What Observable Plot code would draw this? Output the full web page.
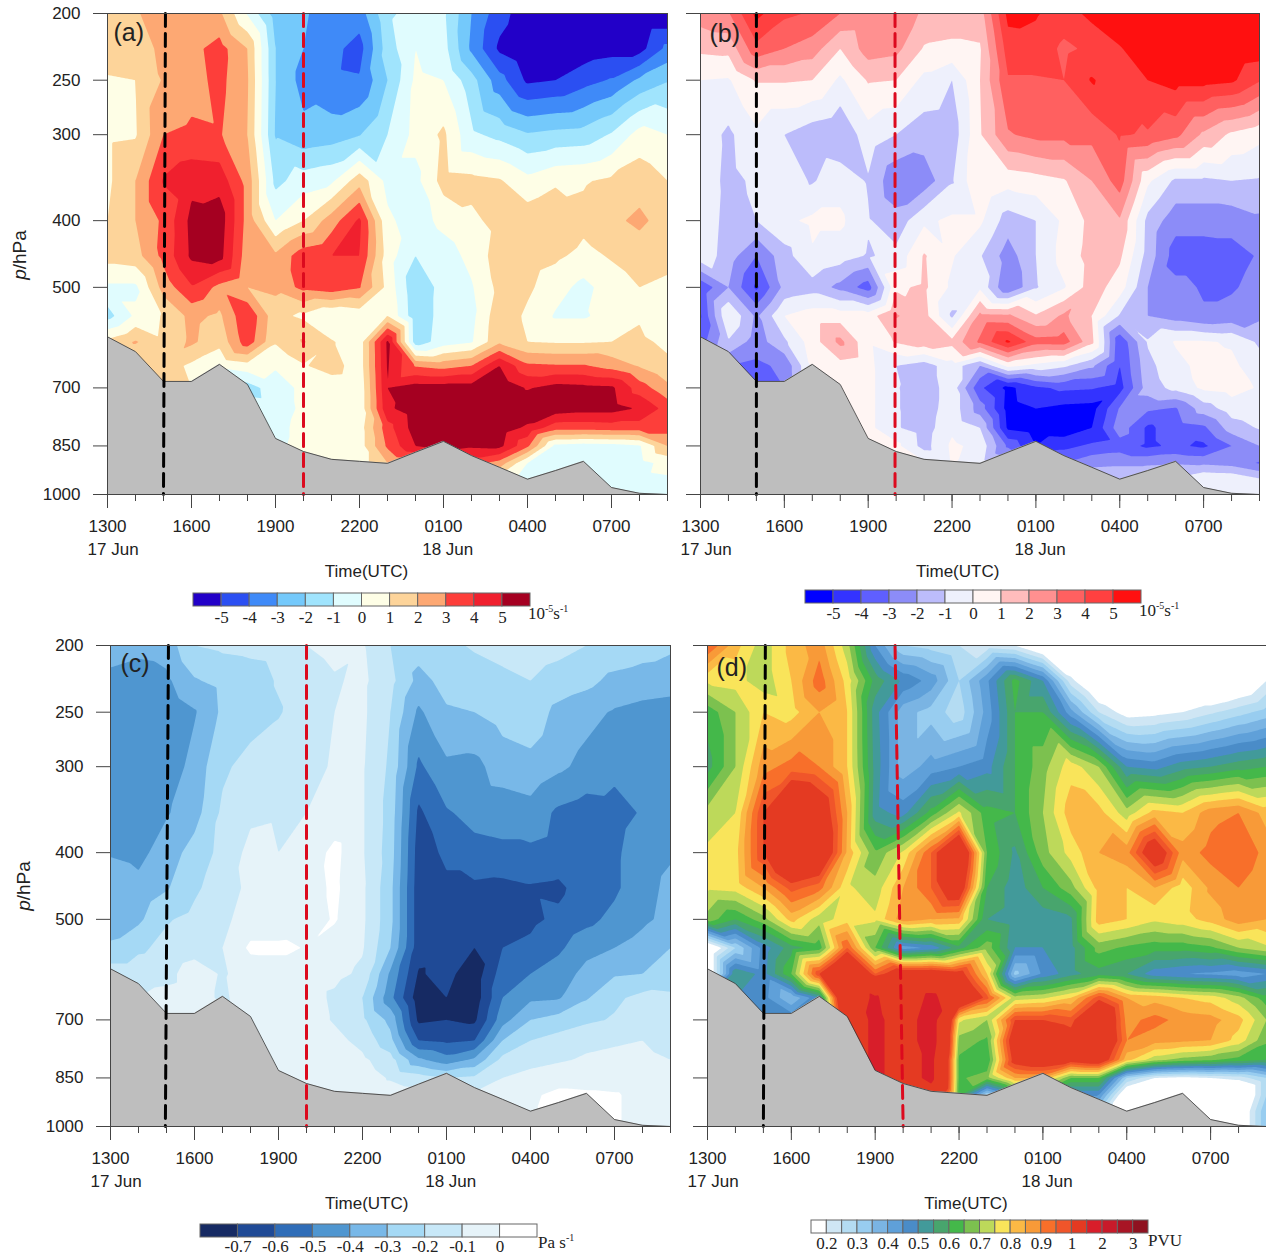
<!DOCTYPE html>
<html><head><meta charset="utf-8">
<script src="https://cdn.jsdelivr.net/npm/d3@7"></script>
<script src="https://cdn.jsdelivr.net/npm/@observablehq/plot@0.6"></script>
<style>
html,body{margin:0;padding:0;background:#fff}
#page{position:relative;width:1266px;height:1255px;overflow:hidden;font-family:"Liberation Sans",sans-serif;color:#222}
#page>svg,#page>div{position:absolute}
.ylab{font-size:19px;transform:translate(-50%,-50%) rotate(-90deg);white-space:nowrap}
.unit{font-family:"Liberation Serif",serif;font-size:17px;white-space:nowrap;line-height:17px}
.unit sup{font-size:10px;line-height:0}
</style></head><body><div id="page"></div>
<script>
const hours = d3.range(21);
const levels = [200,225,250,300,350,400,450,500,550,600,650,700,750,800,850,900,950,1000];
const pressureTicks = [200,250,300,400,500,700,850,1000];
const majorHours = [0,3,6,9,12,15,18];
const hourLabels = ["1300","1600","1900","2200","0100","0400","0700"];
const terrain = [590,620,685,685,647,692,829,866,889,895,901,868,837,878,913,950,923,895,977,996,1000];

const rowsA = [
[1.5,1.9,2.5,2.6,2.2,-0.1,-2.5,-2.9,-3.4,-3.5,-1.2,-0.6,-0.8,-3.0,-4.6,-5.6,-6,-6,-6,-6,-6],
[1.5,1.6,2.2,2.7,3.4,2.0,-2.0,-3.0,-3.7,-4.4,-1.5,0.0,-0.6,-3.2,-5.2,-5.9,-5.8,-5.6,-5.4,-5.4,-3.7],
[0.9,1.0,2.1,2.6,3.3,2.1,-2.0,-3.4,-3.8,-3.9,-2.0,0.2,0.0,-1.6,-3.6,-5.2,-5.0,-4.4,-3.9,-2.8,-2.1],
[0.8,0.9,3.0,3.2,3.1,2.0,-2.1,-2.7,-2.5,-2.05,-1.0,0.3,1.2,-0.8,-1.3,-1.9,-1.7,-1.6,-0.9,0.4,0],
[0.8,2.0,4.1,4.7,4.6,2.6,-1.3,-0.5,-0.2,1.6,-0.3,-0.3,1.4,1.3,1.1,0.3,0.8,0.9,1.2,1.6,1.0],
[1.0,2.0,3.2,5.3,5.6,2.6,0.0,1.0,2.5,4.2,0.2,-0.5,0.3,0.8,1.3,1.6,2.0,1.3,1.8,2.2,1.6],
[1.4,1.6,3.3,5.2,5.4,2.4,2.2,3.6,4.0,4.0,0.5,-1.0,-0.5,0.3,1.5,1.5,1.2,0.7,1.1,1.5,1.3],
[-0.2,-0.2,2.4,3.9,2.7,2.0,2.3,3.3,3.6,3.1,0.7,-1.8,-0.6,-0.1,1.3,1.2,0.4,-0.3,0.5,1.0,0.8],
[-1.4,0.2,1.1,2.3,1.8,3.9,1.3,0.8,0.0,0.3,1.0,-1.7,-0.6,-0.3,1.7,0.8,-0.1,-0.1,0.3,0.95,0.6],
[1.3,2.1,1.2,2.2,1.3,3.6,1.1,2.1,1.1,0.4,5.2,-1.6,-0.5,-0.1,1.8,1.0,0.9,0.9,1.0,1.1,0.9],
[1,1,1.5,0.8,0.2,0.6,0.1,0.9,1.5,0.4,5.1,2.9,2.6,3.0,5.0,3.2,3.1,3.1,2.6,1.9,1.1],
[1,1,1,1,0,-1.5,-0.4,0.2,0.3,0.2,5.0,5.5,5.5,5.5,5.8,4.9,5.4,5.3,5.2,3.5,2.3],
[0,0,0,0,0,-0.3,-0.5,0.2,0.2,0.2,4.8,5.6,5.9,6,6,5.8,5.6,5.4,5.4,4.9,3.6],
[0,0,0,0,0,0,-0.4,0.4,0.5,0.5,3.6,5.5,5.8,5.8,5.6,4.8,3.4,3.4,3.5,3.5,3.5],
[0,0,0,0,0,0,-0.4,0.6,0.5,0.5,3.2,5.0,5.6,5.2,5.3,3.2,-0.3,-0.5,-0.4,-0.1,2.0],
[0,0,0,0,0,0,0,0,0.5,0.5,2.0,2.2,3.4,3.4,2.6,0,-0.5,-0.4,-0.3,-0.3,0.3],
[0,0,0,0,0,0,0,0,0.5,0.5,1,1,2,2,0.5,-0.4,-0.3,-0.2,-0.3,-0.2,-0.1],
[0,0,0,0,0,0,0,0,0.5,0.5,1,1,2,2,0.5,-0.4,-0.3,-0.2,-0.3,-0.2,-0.1]];

const rowsB = [
[2.5,2.9,5.3,4.2,3.9,3.0,2.9,2.8,1.8,1.5,1.5,5.3,5.1,4.5,5.3,6,6,6,6,6,6],
[1.2,1.3,3.7,3.0,2.5,1.0,2.5,2.3,0.9,0.8,0.9,4.5,4.6,3.8,4.2,4.9,5.8,5.8,5.8,5.8,5.6],
[0,-0.1,1.1,1.1,1.0,-0.2,1.1,1.0,-0.3,-1.0,1.0,3.9,3.9,4,5.1,4.4,5.0,5.4,5.4,5.2,4.1],
[-0.4,-1.2,-0.2,-1.0,-1.6,-1.9,-0.4,-1.0,-1.5,-1.6,0.9,2.9,3.3,3.3,3.3,4.1,3.9,3.3,1.8,0.8,0.3],
[-0.3,-1.3,-0.8,-0.5,-1.1,-0.4,-1.1,-2.8,-2.6,-1.1,1.0,0.4,0.6,0.9,2.0,3.5,0.2,-1.2,-1.2,-1.0,-1.1],
[-0.2,-1.4,-1.0,-0.2,0.2,0.2,-0.9,-1.6,-0.2,0.2,0.2,-1.5,-1.0,0.2,1.3,1.9,-1.3,-2.6,-2.6,-2.6,-2.2],
[-0.3,-1.5,-3,-1.4,-0.1,-0.5,-1.1,-0.7,1.1,0.1,-0.9,-2.5,-1.0,0.4,1.4,1.2,-1.4,-3.5,-3.5,-3.4,-2.9],
[-3.8,-2,-4.2,-1.7,-1.4,-2.3,-3.5,0.8,1.2,-0.2,-0.2,-3.0,-1.1,-0.1,1.5,0.5,-2,-2.7,-3.1,-3.1,-2.7],
[-4.1,0.0,-2.2,0.0,0.5,0.5,0.5,2.1,1.4,-1.2,2.3,2.2,1.1,2.2,1.0,-1.1,-2,-2.5,-2.9,-2.7,-2.2],
[-3.5,-1.1,-2.5,-1.2,0.5,2.3,0.2,1.1,1.6,1.3,3.2,5.2,3.4,3.5,1.3,-3.8,-0.9,0.1,0.1,-0.1,-1.2],
[-3,-3,-3.2,-2.8,0.2,0.6,0.3,-1.0,-1.5,-0.4,-2.0,0.3,-0.3,-0.8,-1.8,-4.0,-1.3,-0.3,0.3,0.2,-0.5],
[-3,-3,-3,-3,0.2,0.4,0.3,-0.9,-1.7,-0.4,-3.8,-5.3,-4.2,-3.8,-3.9,-4.4,-1.5,-0.7,0.2,0.4,-0.1],
[0,0,0,0,0,0.3,0.3,-0.9,-1.6,-0.4,-2.5,-5.4,-5,-5.3,-5.4,-2.9,-2.8,-3.1,-1.5,-0.5,-0.2],
[0,0,0,0,0,0.3,0.3,-0.9,-1.5,-0.2,-1.0,-5.2,-5.6,-5.7,-5.0,-2.4,-4.2,-3.5,-3.2,-1.5,-0.9],
[0,0,0,0,0,0.3,0.3,0.3,-1.4,0.2,-0.3,-3.2,-5.0,-4.3,-3.8,-3.5,-4.2,-3.8,-4.2,-3.0,-2.0],
[0,0,0,0,0,0.3,0.3,0.3,0.2,0.1,-0.6,-1.3,-3,-3,-2.3,-2.2,-2.2,-2.1,-2.2,-2.4,-3.1],
[0,0,0,0,0,0.3,0.3,0.3,0.2,0.1,-0.6,-1.3,-2,-2,-1.2,-1.2,-0.9,-0.8,-0.1,-0.2,-0.9],
[0,0,0,0,0,0.3,0.3,0.3,0.2,0.1,-0.6,-1.3,-2,-2,-1.2,-1.2,-0.9,-0.8,-0.1,-0.2,-0.9]];

const rowsC = [
[-.35,-.37,-.36,-.2,-.18,-.17,-.16,-.1,-.07,-.09,-.2,-.26,-.22,-.19,-.17,-.15,-.17,-.2,-.22,-.25,-.28],
[-.43,-.45,-.42,-.31,-.27,-.25,-.19,-.15,-.11,-.08,-.17,-.33,-.27,-.24,-.22,-.2,-.24,-.27,-.33,-.35,-.36],
[-.4,-.46,-.47,-.41,-.28,-.25,-.21,-.14,-.1,-.08,-.2,-.42,-.31,-.3,-.26,-.24,-.33,-.37,-.41,-.43,-.44],
[-.42,-.46,-.47,-.36,-.22,-.16,-.13,-.13,-.09,-.09,-.22,-.52,-.42,-.43,-.35,-.33,-.38,-.43,-.47,-.47,-.47],
[-.41,-.45,-.41,-.34,-.18,-.12,-.11,-.1,-.07,-.09,-.24,-.62,-.51,-.47,-.46,-.44,-.52,-.55,-.54,-.49,-.46],
[-.41,-.43,-.35,-.26,-.17,-.07,-.1,-.07,.03,-.09,-.25,-.65,-.58,-.53,-.52,-.52,-.54,-.56,-.52,-.44,-.41],
[-.33,-.37,-.31,-.22,-.14,-.08,-.07,-.05,.02,-.08,-.27,-.66,-.62,-.62,-.63,-.61,-.62,-.55,-.52,-.43,-.38],
[-.33,-.32,-.21,-.17,-.12,-.06,-.06,-.05,.01,-.08,-.27,-.66,-.65,-.65,-.64,-.62,-.58,-.53,-.47,-.42,-.37],
[-.29,-.22,-.17,-.14,-.1,.02,.02,-.005,-.05,-.09,-.3,-.66,-.67,-.7,-.6,-.58,-.52,-.43,-.4,-.36,-.3],
[-.14,-.14,-.13,-.05,-.11,-.06,-.05,-.05,-.07,-.12,-.42,-.71,-.67,-.76,-.55,-.5,-.45,-.37,-.31,-.3,-.26],
[-.1,-.1,-.07,-.05,-.12,-.04,-.05,-.05,-.12,-.2,-.47,-.76,-.7,-.76,-.5,-.42,-.41,-.31,-.22,-.17,-.18],
[-.05,-.05,-.05,-.05,-.05,-.05,-.05,-.05,-.11,-.18,-.33,-.72,-.7,-.72,-.44,-.3,-.26,-.22,-.19,-.16,-.13],
[-.05,-.05,-.05,-.05,-.05,-.05,-.05,-.05,-.07,-.13,-.27,-.6,-.62,-.6,-.3,-.2,-.16,-.12,-.11,-.1,-.13],
[-.05,-.05,-.05,-.05,-.05,-.05,-.05,-.05,-.06,-.08,-.16,-.38,-.46,-.38,-.17,-.13,-.11,-.09,-.08,-.08,-.1],
[-.05,-.05,-.05,-.05,-.05,-.05,-.05,-.03,-.05,-.05,-.11,-.15,-.2,-.18,-.1,-.07,-.05,-.05,-.05,-.05,-.05],
[-.05,-.05,-.05,-.05,-.05,-.05,-.05,-.03,-.03,-.04,-.05,-.06,-.08,-.08,-.05,-.02,.03,.02,.01,-.03,-.05],
[-.05,-.05,-.05,-.05,-.05,-.05,-.05,-.03,-.03,-.04,-.05,-.06,-.08,-.08,-.05,-.01,.02,.02,.01,-.03,-.05],
[-.05,-.05,-.05,-.05,-.05,-.05,-.05,-.03,-.03,-.04,-.05,-.06,-.08,-.08,-.05,-.01,.02,.02,.01,-.03,-.05]];

const rowsD = [
[.95,.82,.72,.82,.88,.72,.45,.3,.28,.25,.22,.2,.1,.05,0,0,0,0,0,0,0],
[.76,.77,.72,.8,.93,.78,.58,.49,.43,.3,.44,.62,.5,.22,.08,.03,.05,.05,.05,.1,.2],
[.62,.7,.8,.78,.85,.8,.52,.37,.33,.27,.42,.6,.6,.42,.25,.17,.18,.2,.24,.28,.32],
[.58,.7,.88,.92,.9,.8,.53,.37,.42,.45,.48,.6,.68,.78,.7,.5,.48,.53,.55,.58,.6],
[.72,.75,1.0,1.2,1.1,.85,.52,.48,.62,.76,.62,.6,.7,.83,.82,.72,.82,.8,.88,.9,.83],
[.76,.78,1.0,1.2,1.15,.84,.66,.76,.95,1.2,.65,.54,.68,.77,.85,.88,1.1,.87,.92,.95,.88],
[.76,.77,.85,.97,.92,.76,.72,.85,.95,1.1,.6,.52,.6,.68,.82,.8,.85,.77,.86,.9,.85],
[.68,.6,.68,.82,.72,.78,.76,.88,.85,.84,.55,.52,.52,.54,.83,.8,.76,.78,.82,.88,.85],
[.1,.3,.47,.58,.62,.95,.65,.42,.46,.58,.68,.5,.5,.53,.67,.64,.62,.62,.64,.7,.74],
[.1,.55,.48,.65,1.0,1.3,.95,1.1,1.1,1.05,.8,.33,.46,.53,.58,.55,.47,.45,.44,.42,.45],
[.5,.5,.47,.35,.5,1.3,1.55,1.2,1.6,1.2,.97,.72,.74,.8,.98,.85,.83,.8,.78,.72,.62],
[.5,.5,.5,.5,.5,1.2,1.6,1.3,1.7,.76,.7,1.0,1.0,.97,1.2,.88,.92,.88,.87,.82,.7],
[.5,.5,.5,.5,.5,1.2,1.6,1.3,1.7,.68,.64,1.1,1.1,1.05,1.2,.9,.87,.86,.85,.78,.66],
[.5,.5,.5,.5,.5,1.2,1.6,1.3,1.6,.64,.6,1.05,1.1,1.05,1.1,.82,.72,.68,.66,.63,.6],
[.5,.5,.5,.5,.5,1.2,1.6,1.3,1.6,.64,.68,.85,.85,.65,.65,.3,.2,.18,.2,.22,.3],
[.5,.5,.5,.5,.5,1.2,1.6,1.3,1.3,.62,.3,.55,.6,.45,.45,.1,.05,.05,.05,.05,.3],
[.5,.5,.5,.5,.5,1.2,1.6,1.3,1.3,.62,.3,.55,.6,.45,.3,.1,0,0,0,.1,.35],
[.5,.5,.5,.5,.5,1.2,1.6,1.3,1.3,.62,.3,.55,.6,.45,.3,.1,0,0,0,.1,.35]];

const thresholdsAB = [-5,-4,-3,-2,-1,0,1,2,3,4,5];
const thresholdsC = [-.7,-.6,-.5,-.4,-.3,-.2,-.1,0];
const thresholdsD = [.2,.25,.3,.35,.4,.45,.5,.55,.6,.65,.7,.75,.8,.85,.9,.95,1,1.5,2,2.5,3];
const colorsA = ["#2200c8","#2b4ff2","#3f8af8","#74c9fb","#a0e4fd","#e0fcfe","#fefee6","#fdd49a","#fda873","#fd3e3a","#f0202e","#a50021"];
const colorsB = ["#0000ff","#3333ff","#5f5fff","#8c8cf8","#bcbcfb","#eef0fc","#fff5f3","#ffbcbc","#ff9090","#ff6060","#ff4040","#ff1010"];
const colorsC = ["#162a63","#1f4a96","#2f6db8","#4f96d0","#78b8e8","#a5d9f5","#c8e8f8","#e6f3f9","#ffffff"];
const colorsD = ["#ffffff","#cfe6f4","#b4dcf2","#98cdf0","#7ab4e3","#5fa0d9","#4a8cc8","#429a9a","#48a56d","#44b84a","#7cc14f","#bdd95a","#f9e45a","#fbb945","#f89a38","#f86f2a","#f0552a","#e43a22","#d81e2a","#c81a2a","#a81525","#8f1220"];
const legendLabelsAB = ["-5","-4","-3","-2","-1","0","1","2","3","4","5"];
const legendLabelsC = ["-0.7","-0.6","-0.5","-0.4","-0.3","-0.2","-0.1","0"];
const legendLabelsD = ["0.2","0.3","0.4","0.5","0.6","0.7","0.8","0.9","1","2","3"];
const dateLabels = ["17 Jun","18 Jun"];
const dateHours = [0.2,12.15];

const page = document.getElementById("page");
function gridOf(rows){return levels.flatMap((p,j)=>hours.map((h,i)=>({h,p,v:rows[j][i]})));}
function panel(o){
  const svgLeft=o.left, W=o.width, x0=o.x0-svgLeft;
  const terrainData=hours.map(h=>({h,p:terrain[h]}));
  const plot=Plot.plot({
    width:W,height:o.y0+481+100,marginLeft:x0,marginRight:W-x0-o.span,marginTop:o.y0,marginBottom:100,
    x:{domain:[0,20],axis:null},
    y:{type:"log",domain:[1000,200],axis:null},
    color:{type:"threshold",domain:o.thresholds,range:o.colors},
    style:{background:"transparent",overflow:"visible",fontFamily:"Liberation Sans",fontSize:"17px",color:"#222"},
    marks:[
      Plot.contour(gridOf(o.rows),{x:"h",y:"p",fill:"v",thresholds:[-99,...o.thresholds],interpolate:"barycentric",pixelSize:1,blur:0,smooth:true,stroke:"none"}),
      Plot.areaY(terrainData,{x:"h",y1:()=>1000,y2:"p",fill:"#bebebe"}),
      Plot.line(terrainData,{x:"h",y:"p",stroke:"#333",strokeWidth:0.8}),
      Plot.line(o.blackLine,{x:"h",y:"p",stroke:"#000",strokeWidth:3,strokeDasharray:"13 7"}),
      Plot.line(o.redLine,{x:"h",y:"p",stroke:"#dc0a1e",strokeWidth:3,strokeDasharray:"13 7"}),
      Plot.frame({stroke:"#444",strokeWidth:1}),
      Plot.axisX({ticks:hours,tickSize:7,tickFormat:()=>"",stroke:"#444",label:null}),
      Plot.axisX({ticks:majorHours,tickSize:14,tickPadding:11,fontSize:17,tickFormat:(d)=>hourLabels[majorHours.indexOf(d)],stroke:"#444",fill:"#222",label:null}),
      Plot.axisY({ticks:pressureTicks,tickSize:14,tickPadding:13,fontSize:17,tickFormat:o.yLabels?(d=>String(d)):(()=>""),stroke:"#444",fill:"#222",label:null}),
      Plot.text(dateLabels,{x:(d,i)=>dateHours[i],y:()=>1000,text:d=>d,dy:55,fontSize:17,fill:"#222"}),
      Plot.text(["Time(UTC)"],{x:()=>o.timeAt,y:()=>1000,text:d=>d,dy:77,fontSize:17,fill:"#222"}),
      Plot.text([o.tag],{frameAnchor:"top-left",dx:o.tagDx,dy:o.tagDy,text:d=>d,fontSize:25,fill:"#222",textAnchor:"start",lineAnchor:"top"})
    ]
  });
  plot.style.left=svgLeft+"px"; plot.style.top="0px"; plot.style.maxWidth="none";
  page.appendChild(plot);
}
function legend(o){
  const n=o.colors.length;
  const boxes=o.colors.map((c,i)=>({i,c}));
  const plot=Plot.plot({
    width:o.w+40,height:o.h+28,marginLeft:20,marginRight:20,marginTop:1,marginBottom:27,
    x:{domain:[0,n],axis:null},y:{domain:[0,1],axis:null},
    style:{background:"transparent",overflow:"visible",fontFamily:"Liberation Serif",fontSize:"17px",color:"#222"},
    marks:[
      Plot.rect(boxes,{x1:"i",x2:d=>d.i+1,y1:()=>0,y2:()=>1,fill:"c",stroke:"#666",strokeWidth:1}),
      Plot.text(o.labels,{x:(d,i)=>o.labelAt(i),y:()=>0,text:d=>d,dy:o.dy,fontSize:17,fill:"#222"})
    ]
  });
  plot.style.left=(o.x-20)+"px"; plot.style.top=(o.y-1)+"px"; plot.style.maxWidth="none";
  page.appendChild(plot);
  const u=document.createElement("div");u.className="unit";u.innerHTML=o.unit;
  u.style.left=o.ux+"px";u.style.top=o.uy+"px";page.appendChild(u);
}
function ylab(x,y){const d=document.createElement("div");d.className="ylab";d.innerHTML="<i>p</i>/hPa";d.style.left=x+"px";d.style.top=y+"px";page.appendChild(d);}
const vline=(a,b)=>[{h:a,p:200},{h:b,p:1000}];

panel({left:0,width:680,x0:107,span:560,y0:13,rows:rowsA,thresholds:thresholdsAB,colors:colorsA,yLabels:true,timeAt:9.25,tag:"(a)",tagDx:6,tagDy:10,blackLine:vline(2.07,2),redLine:vline(7,7)});
panel({left:680,width:586,x0:700,span:559,y0:13,rows:rowsB,thresholds:thresholdsAB,colors:colorsB,yLabels:false,timeAt:9.2,tag:"(b)",tagDx:9,tagDy:11,blackLine:vline(2,2),redLine:vline(6.96,6.96)});
panel({left:0,width:680,x0:110,span:560,y0:645,rows:rowsC,thresholds:thresholdsC,colors:colorsC,yLabels:true,timeAt:9.15,tag:"(c)",tagDx:10,tagDy:9,blackLine:vline(2.07,1.96),redLine:vline(7,7)});
panel({left:680,width:586,x0:707,span:559,y0:645,rows:rowsD,thresholds:thresholdsD,colors:colorsD,yLabels:false,timeAt:9.25,tag:"(d)",tagDx:9,tagDy:13,blackLine:vline(2.07,2),redLine:vline(6.71,7)});
ylab(20,255);ylab(24,886);
legend({x:193,y:593,w:337,h:13,colors:colorsA,labels:legendLabelsAB,labelAt:i=>i+1,dy:11,unit:"10<sup>-5</sup>s<sup>-1</sup>",ux:528,uy:605});
legend({x:805,y:590,w:336,h:13,colors:colorsB,labels:legendLabelsAB,labelAt:i=>i+1,dy:10,unit:"10<sup>-5</sup>s<sup>-1</sup>",ux:1139,uy:602});
legend({x:200,y:1224,w:337,h:13,colors:colorsC,labels:legendLabelsC,labelAt:i=>i+1,dy:9,unit:"Pa s<sup>-1</sup>",ux:538,uy:1234});
legend({x:811,y:1220,w:337,h:13,colors:colorsD,labels:legendLabelsD,labelAt:i=>2*i+1,dy:10,unit:"PVU",ux:1148,uy:1232});
</script></body></html>
